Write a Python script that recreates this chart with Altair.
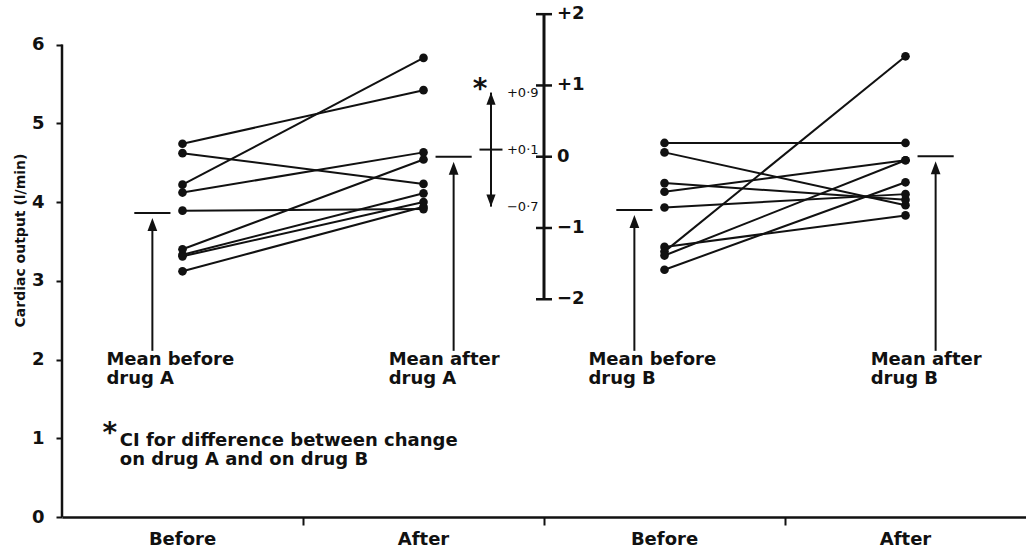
import altair as alt
import pandas as pd

# ---------------- data ----------------
PHASE_LABELS = ["Before", "After", "Before", "After"]
PHASE_X = [0.5, 1.5, 2.5, 3.5]          # centre of each band on the x axis
BAND_TICKS = [1, 2, 3]

A_BEFORE = [4.74, 4.62, 4.22, 4.12, 3.89, 3.40, 3.33, 3.31, 3.12]
A_AFTER = [5.42, 4.23, 5.83, 4.63, 3.91, 4.54, 4.11, 4.00, 3.94]
B_BEFORE = [4.75, 4.63, 4.24, 4.13, 3.93, 3.43, 3.37, 3.32, 3.14]
B_AFTER = [4.75, 3.96, 4.03, 4.53, 4.10, 3.83, 5.85, 4.53, 4.25]

MEAN_VALUES = [3.86, 4.575, 3.90, 4.58]  # before A, after A, before B, after B
MEAN_LABELS = ["Mean before\ndrug A", "Mean after\ndrug A",
               "Mean before\ndrug B", "Mean after\ndrug B"]
MEAN_SIDE = [-1, 1, -1, 1]               # mean marker left/right of the dots
LABEL_Y = 2.11                           # where the arrows and labels start

Y_TICKS = [0, 1, 2, 3, 4, 5, 6]
Y_TOP = 6.4

# difference scale (centred on mean after drug A)
DIFF_TICKS = [-2, -1, 0, 1, 2]
DIFF_TICK_LABELS = ["\u22122", "\u22121", "0", "+1", "+2"]
DIFF_ANCHOR = 4.575                      # main-scale value of difference 0
DIFF_UNIT = 0.905                        # main-scale units per difference unit
DIFF_AXIS_X = 2
CI_X = 1.78
CI_VALUES = [-0.7, 0.1, 0.9]
CI_LABELS = ["\u22120\u00b77", "+0\u00b71", "+0\u00b79"]

NOTE_X = 0.24
NOTE_Y = 1.08
NOTE = "CI for difference between change\non drug A and on drug B"

# ---------------- tables ----------------
rows = []
for drug, bef, aft, xb, xa in [("A", A_BEFORE, A_AFTER, PHASE_X[0], PHASE_X[1]),
                               ("B", B_BEFORE, B_AFTER, PHASE_X[2], PHASE_X[3])]:
    for i, (b, a) in enumerate(zip(bef, aft)):
        rows.append({"id": f"{drug}{i}", "x": xb, "y": b})
        rows.append({"id": f"{drug}{i}", "x": xa, "y": a})
pts = pd.DataFrame(rows)

means = pd.DataFrame({
    "p": PHASE_X, "m": MEAN_VALUES, "label": MEAN_LABELS, "side": MEAN_SIDE,
})
means["x1"] = means["p"] + means["side"] * 0.05
means["x2"] = means["p"] + means["side"] * 0.2
means["ax"] = means["p"] + means["side"] * 0.125
means["ly"] = LABEL_Y

phases = pd.DataFrame({"x": PHASE_X, "t": PHASE_LABELS})
yaxis_df = pd.DataFrame({"x": [0], "y": [Y_TICKS[0]], "y2": [Y_TICKS[-1]]})
diff_ticks = pd.DataFrame({"x": DIFF_AXIS_X, "d": DIFF_TICKS, "t": DIFF_TICK_LABELS})
diff_axis = pd.DataFrame({"x": [DIFF_AXIS_X], "d": [DIFF_TICKS[0]], "d2": [DIFF_TICKS[-1]]})
ci = pd.DataFrame({"x": CI_X, "d": CI_VALUES, "t": CI_LABELS})
ci_span = pd.DataFrame({"x": [CI_X], "d": [CI_VALUES[0]], "d2": [CI_VALUES[-1]]})
ci_mid = ci.iloc[[1]]
ci_top = ci.iloc[[2]]
ci_bot = ci.iloc[[0]]
note = pd.DataFrame({"x": [NOTE_X], "y": [NOTE_Y], "t": [NOTE]})

# ---------------- scales / styles ----------------
INK = "#111111"
FONT = "DejaVu Sans"
XS = alt.Scale(domain=[0, 4], nice=False, zero=False)
YS = alt.Scale(domain=[0, Y_TOP], nice=False, zero=False)
DS = alt.Scale(domain=[(0 - DIFF_ANCHOR) / DIFF_UNIT, (Y_TOP - DIFF_ANCHOR) / DIFF_UNIT],
               nice=False, zero=False)
ARROW_UP = "M0,-1L0.75,1L-0.75,1Z"
ARROW_DOWN = "M0,1L0.75,-1L-0.75,-1Z"

X_AXIS = alt.Axis(
    values=BAND_TICKS, labels=False, title=None, grid=False, domain=True,
    domainColor=INK, domainWidth=2.5, ticks=True, tickColor=INK, tickWidth=2,
    tickSize=8)


def xq(field="x"):
    return alt.X(f"{field}:Q", scale=XS, axis=X_AXIS, title=None)


y_main = alt.Y("y:Q", scale=YS, axis=alt.Axis(
    values=Y_TICKS, grid=False, domain=False, ticks=True, tickColor=INK,
    tickWidth=2, tickSize=6, labelFont=FONT, labelFontWeight="bold",
    labelFontSize=18, labelColor=INK, labelPadding=12,
    title="Cardiac output (l/min)", titleFont=FONT, titleFontWeight="bold",
    titleFontSize=14, titleColor=INK, titleX=-42, titleY=227,
    titleAlign="center", titleBaseline="middle", titleAngle=-90))


def yq(field="y"):
    return alt.Y(f"{field}:Q", scale=YS, axis=None)


def yd(field="d"):
    return alt.Y(f"{field}:Q", scale=DS, axis=None)


lines = alt.Chart(pts).mark_line(color=INK, strokeWidth=2).encode(
    x=xq(), y=y_main, detail="id:N")
dots = alt.Chart(pts).mark_circle(color=INK, size=75, opacity=1).encode(
    x=xq(), y=yq())

y_axis_line = alt.Chart(yaxis_df).mark_rule(color=INK, strokeWidth=2.5).encode(
    x=xq(), y=yq(), y2="y2:Q")

phase_text = alt.Chart(phases).mark_text(
    font=FONT, fontWeight="bold", fontSize=18, color=INK, baseline="middle").encode(
    x=xq(), y=alt.value(527), text="t:N")

mean_lines = alt.Chart(means).mark_rule(color=INK, strokeWidth=2).encode(
    x=xq("x1"), x2="x2:Q", y=yq("m"))
mean_shafts = alt.Chart(means).mark_rule(color=INK, strokeWidth=2, y2Offset=12).encode(
    x=xq("ax"), y=yq("ly"), y2="m:Q")
mean_heads = alt.Chart(means).mark_point(
    shape=ARROW_UP, filled=True, size=169, color=INK, opacity=1, yOffset=11.5).encode(
    x=xq("ax"), y=yq("m"))
before_labels = alt.Chart(means[means.side < 0]).mark_text(
    font=FONT, fontWeight="bold", fontSize=18, color=INK, align="left",
    baseline="top", dx=-46, lineBreak="\n", lineHeight=19).encode(
    x=xq("ax"), y=yq("ly"), text="label:N")
after_labels = alt.Chart(means[means.side > 0]).mark_text(
    font=FONT, fontWeight="bold", fontSize=18, color=INK, align="left",
    baseline="top", dx=-65, lineBreak="\n", lineHeight=19).encode(
    x=xq("ax"), y=yq("ly"), text="label:N")

note_text = alt.Chart(note).mark_text(
    font=FONT, fontWeight="bold", fontSize=18, color=INK, align="left",
    baseline="top", lineBreak="\n", lineHeight=19).encode(
    x=xq(), y=yq(), text="t:N")
note_star = alt.Chart(note).mark_text(
    font=FONT, fontWeight="bold", fontSize=28, color=INK, align="center",
    baseline="alphabetic", dx=-10, dy=10).encode(
    x=xq(), y=yq(), text=alt.value("*"))

# difference scale (own y scale)
d_axis = alt.Chart(diff_axis).mark_rule(color=INK, strokeWidth=3).encode(
    x=xq(), y=yd(), y2="d2:Q")
d_ticks = alt.Chart(diff_ticks).mark_tick(
    orient="horizontal", size=16, thickness=2.5, color=INK, opacity=1).encode(
    x=xq(), y=yd())
d_labels = alt.Chart(diff_ticks).mark_text(
    font=FONT, fontWeight="bold", fontSize=18, color=INK, align="left",
    baseline="middle", dx=13).encode(x=xq(), y=yd(), text="t:N")

ci_line = alt.Chart(ci_span).mark_rule(color=INK, strokeWidth=2).encode(
    x=xq(), y=yd(), y2="d2:Q")
ci_mid_tick = alt.Chart(ci_mid).mark_tick(
    orient="horizontal", size=23, thickness=2, color=INK, opacity=1).encode(
    x=xq(), y=yd())
ci_head_top = alt.Chart(ci_top).mark_point(
    shape=ARROW_UP, filled=True, size=150, color=INK, opacity=1, yOffset=6).encode(
    x=xq(), y=yd())
ci_head_bot = alt.Chart(ci_bot).mark_point(
    shape=ARROW_DOWN, filled=True, size=150, color=INK, opacity=1, yOffset=-6).encode(
    x=xq(), y=yd())
ci_labels = alt.Chart(ci).mark_text(
    font=FONT, fontSize=13, color=INK, align="left", baseline="middle", dx=16).encode(
    x=xq(), y=yd(), text="t:N")
ci_star = alt.Chart(ci_top).mark_text(
    font=FONT, fontWeight="bold", fontSize=28, color=INK, align="center",
    baseline="alphabetic", dx=-11, dy=5).encode(
    x=xq(), y=yd(), text=alt.value("*"))

chart = alt.layer(
    lines, dots, y_axis_line, phase_text,
    mean_lines, mean_shafts, mean_heads, before_labels, after_labels,
    note_text, note_star,
    d_axis, d_ticks, d_labels,
    ci_line, ci_mid_tick, ci_head_top, ci_head_bot, ci_labels, ci_star,
).resolve_scale(y="independent").properties(
    width=964, height=504,
    padding={"left": 62, "top": 13, "right": 0, "bottom": 34},
    autosize=alt.AutoSizeParams(type="none"),
    background="white",
).configure_view(stroke=None)

chart.save("out.html", embed_options={"renderer": "svg", "actions": False})
